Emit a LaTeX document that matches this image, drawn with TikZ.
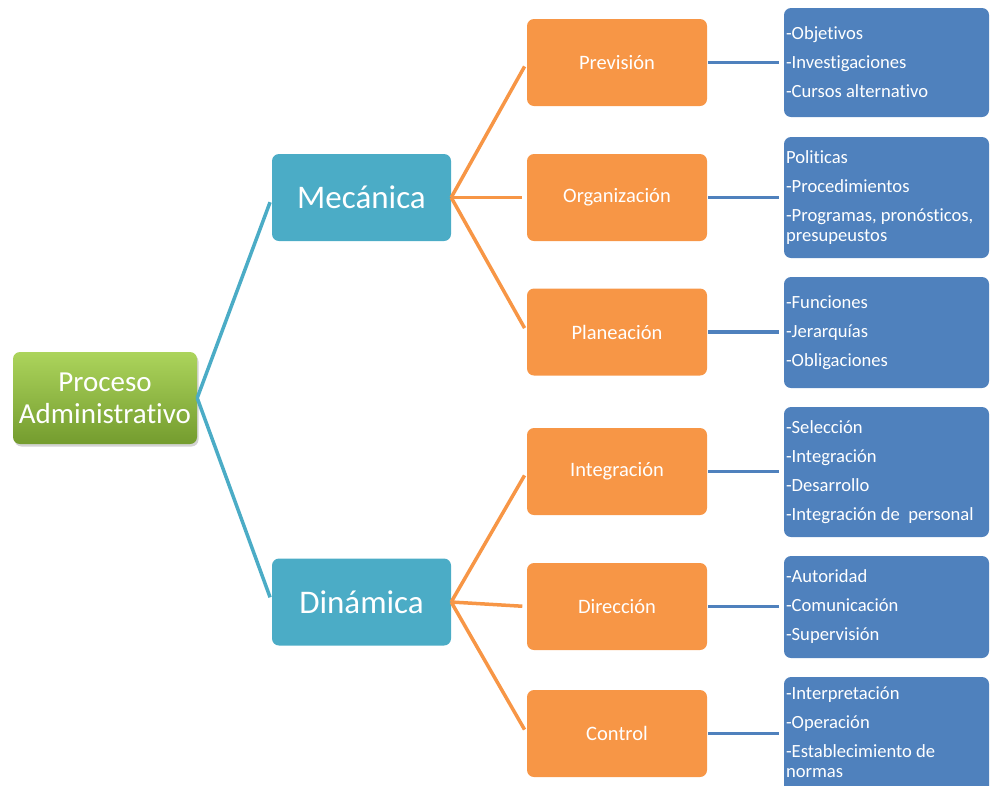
\documentclass[tikz,border=0pt]{standalone}
\usepackage{fontspec}
\setmainfont{Carlito}[Ligatures=NoCommon]
\usetikzlibrary{shadows}

\definecolor{rootTop}{RGB}{172,212,92}
\definecolor{rootBot}{RGB}{116,156,46}
\definecolor{tealC}{RGB}{75,172,198}
\definecolor{orangeC}{RGB}{247,150,70}
\definecolor{blueC}{RGB}{79,129,189}

\begin{document}
\begin{tikzpicture}[x=1pt,y=-1pt,
  box/.style={rounded corners=7pt, inner sep=0pt, text=white, align=center},
  rootbox/.style={box, top color=rootTop, bottom color=rootBot,
    minimum width=184pt, minimum height=92pt,
    font=\fontsize{29}{32}\selectfont,
    drop shadow={opacity=0.35, shadow xshift=1.5pt, shadow yshift=-2.5pt}},
  levelbox/.style={box, fill=tealC, minimum width=179pt, minimum height=87pt,
    font=\fontsize{33}{36}\selectfont},
  stagebox/.style={box, fill=orangeC, minimum width=180pt, minimum height=87pt,
    font=\fontsize{20.5}{22}\selectfont},
  listbox/.style={box, fill=blueC, minimum width=205pt},
  listtext/.style={text=white, align=left, inner sep=0pt, anchor=west,
    font=\fontsize{18.6}{20}\selectfont},
  tealline/.style={draw=tealC, line width=3.5pt, shorten >=5pt},
  orangeline/.style={draw=orangeC, line width=3.5pt, shorten >=4.5pt},
  blueline/.style={draw=blueC, line width=3.5pt, shorten >=4.5pt, shorten <=1pt}
]
\clip (0,0) rectangle (990,785);

% root
\node[rootbox] (root) at (105,398) {Proceso\\Administrativo};

% two branches
\node[levelbox] (mec) at (361.5,197.5) {Mecánica};
\node[levelbox] (din) at (361.5,602) {Dinámica};

% stages
\node[stagebox] (prev) at (617,62.5)  {Previsión};
\node[stagebox] (org)  at (617,197.5) {Organización};
\node[stagebox] (plan) at (617,332)   {Planeación};
\node[stagebox] (integ) at (617,471.5) {Integración};
\node[stagebox] (dir)  at (617,606.5) {Dirección};
\node[stagebox] (ctrl) at (617,733.5) {Control};

% detail lists
\node[listbox, minimum height=109pt] (lprev) at (886.5,62.5) {};
\node[listtext] (tprev) at ([xshift=2pt]lprev.west)
  {-Objetivos\\[9pt]-Investigaciones\\[9pt]-Cursos alternativo};

\node[listbox, minimum height=121pt] (lorg) at (886.5,197.5) {};
\node[listtext] (torg) at ([xshift=2pt]lorg.west)
  {Politicas\\[9pt]-Procedimientos\\[9pt]-Programas, pronósticos,\\presupeustos};

\node[listbox, minimum height=111pt] (lplan) at (886.5,332.5) {};
\node[listtext] (tplan) at ([xshift=2pt]lplan.west)
  {-Funciones\\[9pt]-Jerarquías\\[9pt]-Obligaciones};

\node[listbox, minimum height=130pt] (linteg) at (886.5,472) {};
\node[listtext] (tinteg) at ([xshift=2pt]linteg.west)
  {-Selección\\[9pt]-Integración\\[9pt]-Desarrollo\\[9pt]-Integración de~~personal};

\node[listbox, minimum height=102pt] (ldir) at (886.5,607) {};
\node[listtext] (tdir) at ([xshift=2pt]ldir.west)
  {-Autoridad\\[9pt]-Comunicación\\[9pt]-Supervisión};

\node[listbox, minimum height=116pt] (lctrl) at (886.5,735) {};
\node[listtext] (tctrl) at ([xshift=2pt,yshift=3pt]lctrl.west)
  {-Interpretación\\[9pt]-Operación\\[9pt]-Establecimiento de\\normas};

% connectors
\draw[tealline] (root.east) -- (mec.west);
\draw[tealline] (root.east) -- (din.west);

\foreach \s in {prev,org,plan}
  \draw[orangeline] (mec.east) -- (\s.west);
\foreach \s in {integ,dir,ctrl}
  \draw[orangeline] (din.east) -- (\s.west);

\draw[blueline] (prev.east) -- (prev.east -| lprev.west);
\draw[blueline] (org.east) -- (org.east -| lorg.west);
\draw[blueline] (plan.east) -- (plan.east -| lplan.west);
\draw[blueline] (integ.east) -- (integ.east -| linteg.west);
\draw[blueline] (dir.east) -- (dir.east -| ldir.west);
\draw[blueline] (ctrl.east) -- (ctrl.east -| lctrl.west);
\end{tikzpicture}
\end{document}
